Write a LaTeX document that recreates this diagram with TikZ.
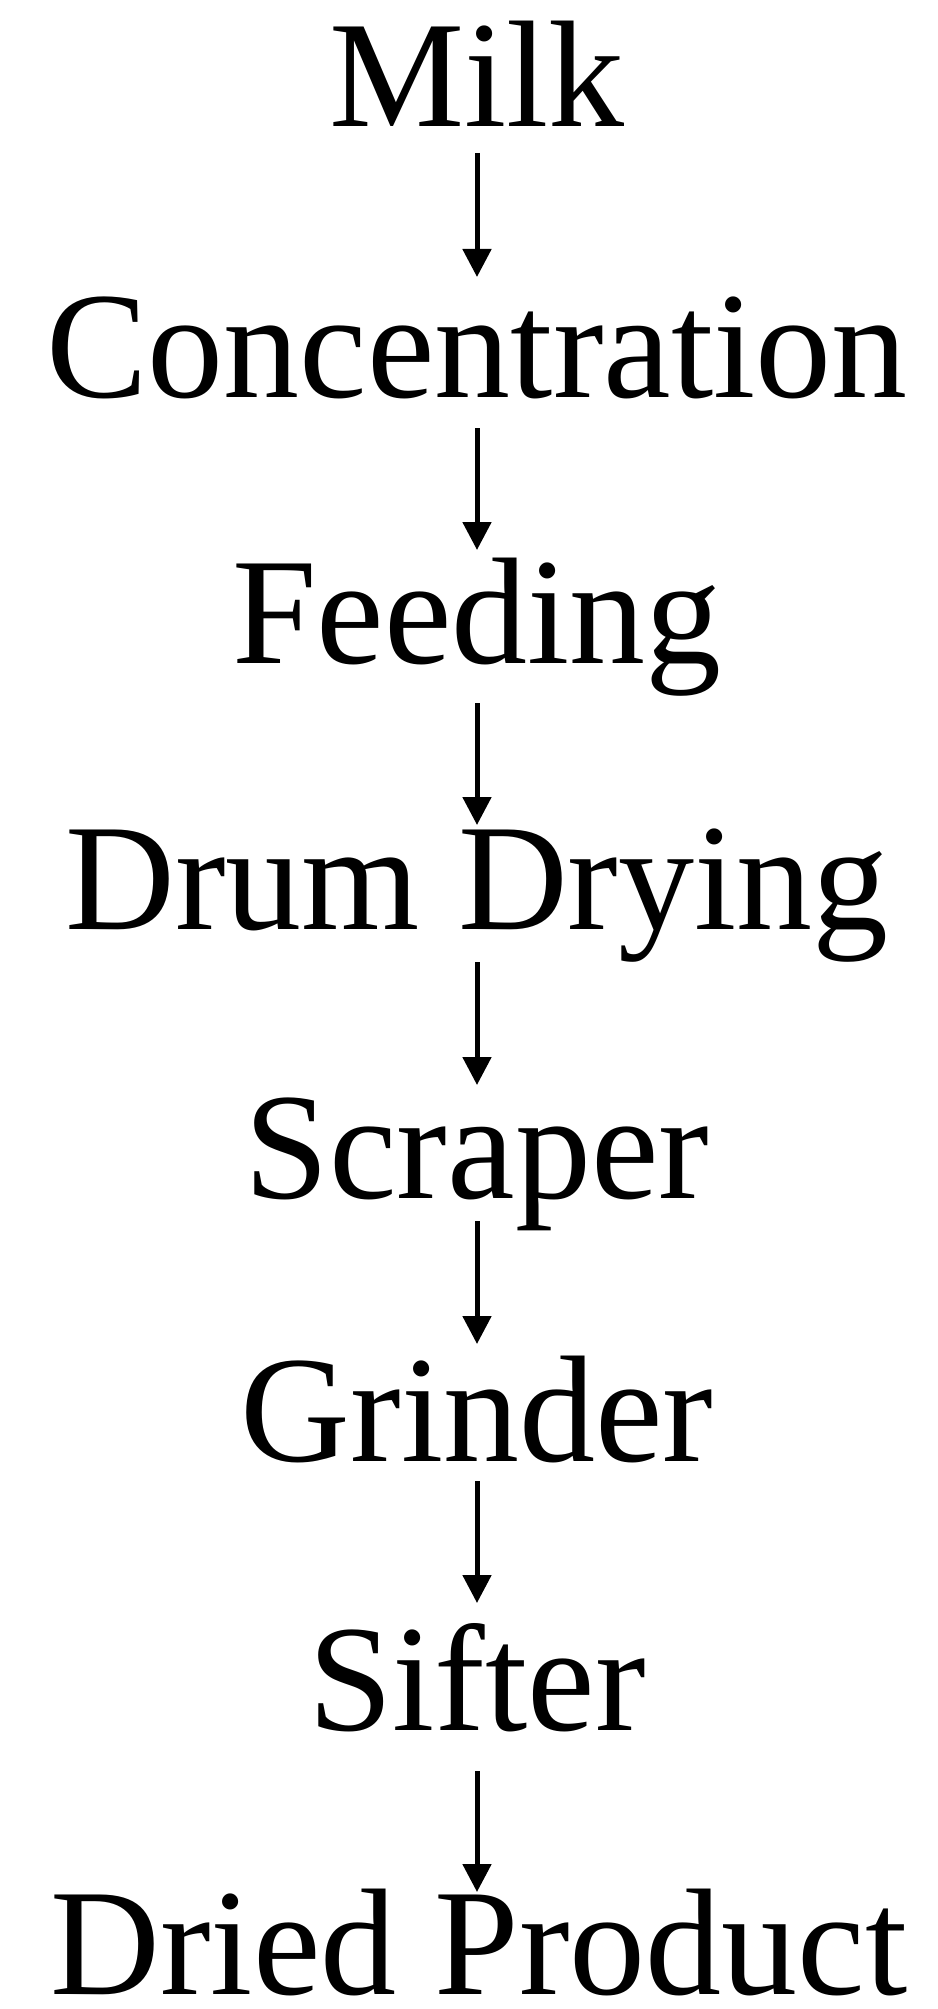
\documentclass[tikz,border=0pt]{standalone}
\usepackage{fontspec}
\setmainfont{Liberation Serif}
\usepackage{tikz}
\usetikzlibrary{arrows.meta}
\usepackage{xcolor}
\definecolor{FlowBlack}{HTML}{000000}
\definecolor{FlowWhite}{HTML}{ffffff}
\tikzset{
    % Stage labels - plain large serif text, placed on their baseline
    stage/.style={
        inner sep=0pt,
        anchor=base,
        text=FlowBlack,
        font=\fontsize{152}{156}\selectfont
    },
    % Arrow style - straight down, solid triangle head
    flow/.style={
        -{Triangle[length=28pt,width=28pt]},
        line width=5pt,
        draw=FlowBlack
    }
}

\begin{document}
\begin{tikzpicture}[x=1pt,y=-1pt]
    \useasboundingbox[fill=FlowWhite] (0,0) rectangle (937,2009);

    \node[stage] (milk) at (477,127) {Milk};
    \node[stage] (conc) at (477,397) {Concentration};
    \node[stage] (feed) at (477,663) {Feeding};
    \node[stage] (drum) at (477,929) {Drum Drying};
    \node[stage] (scrap) at (477,1198) {Scraper};
    \node[stage] (grind) at (477,1461) {Grinder};
    \node[stage] (sift) at (477,1730) {Sifter};
    \node[stage, text depth=0pt] (prod) at (479,1994) {Dried Product};

    \draw[flow] ([yshift=-26pt]milk.base) -- ([yshift=120pt]conc.base);
    \draw[flow] ([yshift=-31pt]conc.base) -- ([yshift=113pt]feed.base);
    \draw[flow] ([yshift=-40pt]feed.base) -- ([yshift=104pt]drum.base);
    \draw[flow] ([yshift=-33pt]drum.base) -- ([yshift=113pt]scrap.base);
    \draw[flow] ([yshift=-23pt]scrap.base) -- ([yshift=117pt]grind.base);
    \draw[flow] ([yshift=-20pt]grind.base) -- ([yshift=127pt]sift.base);
    \draw[flow] ([yshift=-41pt]sift.base) -- ([yshift=102pt,xshift=-2pt]prod.base);
\end{tikzpicture}
\end{document}
